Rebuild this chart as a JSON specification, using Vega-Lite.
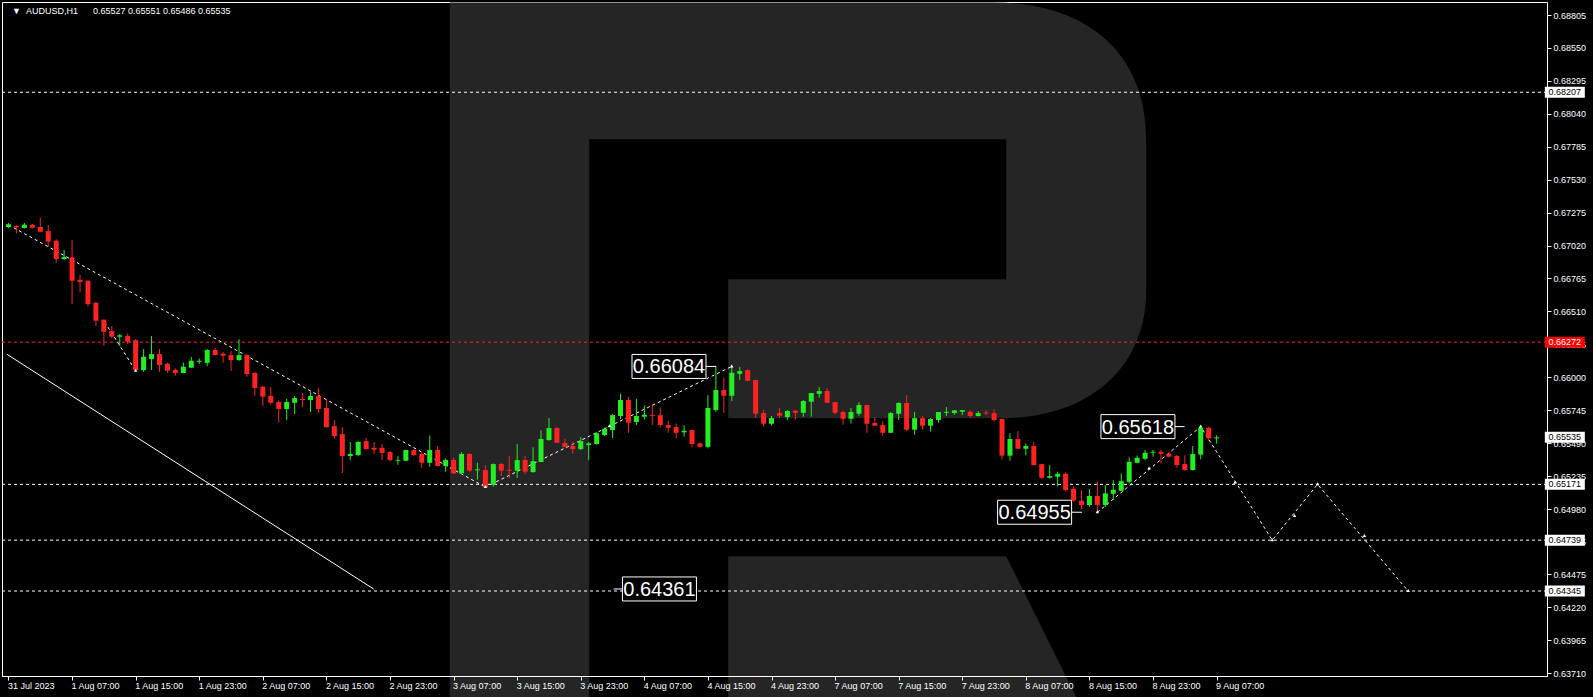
{
"$schema": "https://vega.github.io/schema/vega-lite/v6.json",
"width": 1545, "height": 674,
"autosize": {"type": "none"},
"padding": {"left": 2, "top": 2, "right": 46, "bottom": 21},
"background": "#000000",
"config": {
  "view": {"fill": "#000000", "stroke": "#ffffff", "strokeWidth": 1},
  "font": "Liberation Sans",
  "axis": {"grid": false, "title": null},
  "axisX": {"labelAlign": "left", "labelBaseline": "top", "labelPadding": 1, "labelOffset": -1, "tickSize": 4, "labelFontSize": 9, "labelFont": "Liberation Sans", "labelColor": "#ffffff", "tickColor": "#ffffff", "domainColor": "#ffffff", "domain": true, "labelFlush": false, "labelOverlap": false},
  "axisY": {"labelAlign": "left", "labelBaseline": "middle", "labelPadding": 2, "tickSize": 4, "labelFontSize": 9, "labelFont": "Liberation Sans", "labelColor": "#ffffff", "tickColor": "#ffffff", "domain": false, "labelOverlap": false, "labelFlush": false}
},
"datasets": {
  "candles": [
{"i":0,"o":0.67164,"h":0.67195,"l":0.67156,"c":0.67185},
{"i":1,"o":0.67172,"h":0.67179,"l":0.67114,"c":0.67161},
{"i":2,"o":0.67156,"h":0.67195,"l":0.67152,"c":0.67182},
{"i":3,"o":0.67182,"h":0.67187,"l":0.67151,"c":0.67158},
{"i":4,"o":0.67164,"h":0.67236,"l":0.67127,"c":0.67127},
{"i":5,"o":0.67132,"h":0.67179,"l":0.67011,"c":0.67050},
{"i":6,"o":0.67058,"h":0.67068,"l":0.66887,"c":0.66916},
{"i":7,"o":0.66916,"h":0.66985,"l":0.66908,"c":0.66931},
{"i":8,"o":0.66929,"h":0.67063,"l":0.66567,"c":0.66748},
{"i":9,"o":0.66755,"h":0.66792,"l":0.66655,"c":0.66738},
{"i":10,"o":0.66748,"h":0.66750,"l":0.66546,"c":0.66567},
{"i":11,"o":0.66577,"h":0.66585,"l":0.66397,"c":0.66438},
{"i":12,"o":0.66446,"h":0.66448,"l":0.66244,"c":0.66353},
{"i":13,"o":0.66358,"h":0.66397,"l":0.66301,"c":0.66314},
{"i":14,"o":0.66314,"h":0.66335,"l":0.66242,"c":0.66325},
{"i":15,"o":0.66321,"h":0.66340,"l":0.66257,"c":0.66275},
{"i":16,"o":0.66288,"h":0.66296,"l":0.66051,"c":0.66056},
{"i":17,"o":0.66056,"h":0.66218,"l":0.66043,"c":0.66159},
{"i":18,"o":0.66141,"h":0.66319,"l":0.66056,"c":0.66180},
{"i":19,"o":0.66180,"h":0.66218,"l":0.66043,"c":0.66095},
{"i":20,"o":0.66105,"h":0.66112,"l":0.66035,"c":0.66051},
{"i":21,"o":0.66058,"h":0.66069,"l":0.66012,"c":0.66033},
{"i":22,"o":0.66033,"h":0.66115,"l":0.66030,"c":0.66082},
{"i":23,"o":0.66074,"h":0.66157,"l":0.66071,"c":0.66128},
{"i":24,"o":0.66120,"h":0.66146,"l":0.66102,"c":0.66128},
{"i":25,"o":0.66112,"h":0.66218,"l":0.66087,"c":0.66211},
{"i":26,"o":0.66211,"h":0.66229,"l":0.66172,"c":0.66172},
{"i":27,"o":0.66183,"h":0.66196,"l":0.66112,"c":0.66167},
{"i":28,"o":0.66172,"h":0.66203,"l":0.66049,"c":0.66133},
{"i":29,"o":0.66133,"h":0.66296,"l":0.66128,"c":0.66172},
{"i":30,"o":0.66172,"h":0.66177,"l":0.66004,"c":0.66025},
{"i":31,"o":0.66033,"h":0.66043,"l":0.65857,"c":0.65917},
{"i":32,"o":0.65927,"h":0.65935,"l":0.65777,"c":0.65850},
{"i":33,"o":0.65855,"h":0.65924,"l":0.65788,"c":0.65803},
{"i":34,"o":0.65808,"h":0.65824,"l":0.65648,"c":0.65754},
{"i":35,"o":0.65754,"h":0.65832,"l":0.65669,"c":0.65808},
{"i":36,"o":0.65803,"h":0.65855,"l":0.65715,"c":0.65839},
{"i":37,"o":0.65832,"h":0.65878,"l":0.65768,"c":0.65824},
{"i":38,"o":0.65824,"h":0.65888,"l":0.65731,"c":0.65855},
{"i":39,"o":0.65855,"h":0.65917,"l":0.65725,"c":0.65754},
{"i":40,"o":0.65762,"h":0.65824,"l":0.65610,"c":0.65614},
{"i":41,"o":0.65622,"h":0.65669,"l":0.65524,"c":0.65545},
{"i":42,"o":0.65560,"h":0.65614,"l":0.65259,"c":0.65390},
{"i":43,"o":0.65390,"h":0.65499,"l":0.65359,"c":0.65406},
{"i":44,"o":0.65398,"h":0.65506,"l":0.65390,"c":0.65499},
{"i":45,"o":0.65506,"h":0.65530,"l":0.65440,"c":0.65444},
{"i":46,"o":0.65454,"h":0.65499,"l":0.65406,"c":0.65439},
{"i":47,"o":0.65454,"h":0.65483,"l":0.65359,"c":0.65414},
{"i":48,"o":0.65421,"h":0.65429,"l":0.65351,"c":0.65359},
{"i":49,"o":0.65354,"h":0.65390,"l":0.65323,"c":0.65361},
{"i":50,"o":0.65354,"h":0.65439,"l":0.65351,"c":0.65437},
{"i":51,"o":0.65437,"h":0.65444,"l":0.65390,"c":0.65398},
{"i":52,"o":0.65406,"h":0.65421,"l":0.65299,"c":0.65338},
{"i":53,"o":0.65338,"h":0.65550,"l":0.65307,"c":0.65437},
{"i":54,"o":0.65437,"h":0.65468,"l":0.65309,"c":0.65313},
{"i":55,"o":0.65313,"h":0.65372,"l":0.65269,"c":0.65359},
{"i":56,"o":0.65359,"h":0.65377,"l":0.65251,"c":0.65256},
{"i":57,"o":0.65256,"h":0.65421,"l":0.65248,"c":0.65406},
{"i":58,"o":0.65406,"h":0.65411,"l":0.65269,"c":0.65277},
{"i":59,"o":0.65280,"h":0.65338,"l":0.65209,"c":0.65287},
{"i":60,"o":0.65282,"h":0.65320,"l":0.65150,"c":0.65153},
{"i":61,"o":0.65168,"h":0.65333,"l":0.65153,"c":0.65328},
{"i":62,"o":0.65328,"h":0.65338,"l":0.65235,"c":0.65277},
{"i":63,"o":0.65284,"h":0.65390,"l":0.65220,"c":0.65277},
{"i":64,"o":0.65277,"h":0.65483,"l":0.65220,"c":0.65359},
{"i":65,"o":0.65359,"h":0.65390,"l":0.65251,"c":0.65269},
{"i":66,"o":0.65266,"h":0.65458,"l":0.65261,"c":0.65351},
{"i":67,"o":0.65344,"h":0.65591,"l":0.65344,"c":0.65522},
{"i":68,"o":0.65514,"h":0.65684,"l":0.65509,"c":0.65607},
{"i":69,"o":0.65607,"h":0.65617,"l":0.65493,"c":0.65493},
{"i":70,"o":0.65491,"h":0.65524,"l":0.65458,"c":0.65460},
{"i":71,"o":0.65468,"h":0.65501,"l":0.65408,"c":0.65444},
{"i":72,"o":0.65444,"h":0.65537,"l":0.65437,"c":0.65506},
{"i":73,"o":0.65475,"h":0.65499,"l":0.65359,"c":0.65488},
{"i":74,"o":0.65483,"h":0.65576,"l":0.65479,"c":0.65566},
{"i":75,"o":0.65553,"h":0.65612,"l":0.65545,"c":0.65602},
{"i":76,"o":0.65591,"h":0.65715,"l":0.65530,"c":0.65707},
{"i":77,"o":0.65700,"h":0.65870,"l":0.65677,"c":0.65824},
{"i":78,"o":0.65824,"h":0.65848,"l":0.65570,"c":0.65648},
{"i":79,"o":0.65654,"h":0.65834,"l":0.65630,"c":0.65700},
{"i":80,"o":0.65695,"h":0.65783,"l":0.65674,"c":0.65710},
{"i":81,"o":0.65707,"h":0.65793,"l":0.65630,"c":0.65700},
{"i":82,"o":0.65707,"h":0.65767,"l":0.65612,"c":0.65630},
{"i":83,"o":0.65630,"h":0.65664,"l":0.65570,"c":0.65609},
{"i":84,"o":0.65614,"h":0.65643,"l":0.65527,"c":0.65570},
{"i":85,"o":0.65574,"h":0.65630,"l":0.65540,"c":0.65586},
{"i":86,"o":0.65591,"h":0.65591,"l":0.65458,"c":0.65483},
{"i":87,"o":0.65488,"h":0.65496,"l":0.65455,"c":0.65462},
{"i":88,"o":0.65462,"h":0.65862,"l":0.65450,"c":0.65762},
{"i":89,"o":0.65746,"h":0.66082,"l":0.65733,"c":0.65901},
{"i":90,"o":0.65901,"h":0.65999,"l":0.65725,"c":0.65857},
{"i":91,"o":0.65857,"h":0.66084,"l":0.65816,"c":0.66035},
{"i":92,"o":0.66027,"h":0.66080,"l":0.65979,"c":0.66048},
{"i":93,"o":0.66056,"h":0.66060,"l":0.65971,"c":0.65973},
{"i":94,"o":0.65979,"h":0.65979,"l":0.65687,"c":0.65718},
{"i":95,"o":0.65723,"h":0.65746,"l":0.65617,"c":0.65640},
{"i":96,"o":0.65640,"h":0.65700,"l":0.65625,"c":0.65684},
{"i":97,"o":0.65723,"h":0.65762,"l":0.65687,"c":0.65702},
{"i":98,"o":0.65692,"h":0.65746,"l":0.65669,"c":0.65739},
{"i":99,"o":0.65741,"h":0.65746,"l":0.65669,"c":0.65725},
{"i":100,"o":0.65725,"h":0.65824,"l":0.65695,"c":0.65816},
{"i":101,"o":0.65811,"h":0.65878,"l":0.65695,"c":0.65878},
{"i":102,"o":0.65872,"h":0.65924,"l":0.65842,"c":0.65893},
{"i":103,"o":0.65893,"h":0.65917,"l":0.65798,"c":0.65803},
{"i":104,"o":0.65808,"h":0.65808,"l":0.65715,"c":0.65725},
{"i":105,"o":0.65731,"h":0.65741,"l":0.65633,"c":0.65679},
{"i":106,"o":0.65679,"h":0.65762,"l":0.65643,"c":0.65731},
{"i":107,"o":0.65718,"h":0.65808,"l":0.65702,"c":0.65785},
{"i":108,"o":0.65785,"h":0.65785,"l":0.65570,"c":0.65640},
{"i":109,"o":0.65646,"h":0.65690,"l":0.65625,"c":0.65625},
{"i":110,"o":0.65630,"h":0.65661,"l":0.65547,"c":0.65570},
{"i":111,"o":0.65570,"h":0.65731,"l":0.65568,"c":0.65723},
{"i":112,"o":0.65718,"h":0.65808,"l":0.65669,"c":0.65801},
{"i":113,"o":0.65801,"h":0.65862,"l":0.65584,"c":0.65594},
{"i":114,"o":0.65594,"h":0.65731,"l":0.65555,"c":0.65684},
{"i":115,"o":0.65684,"h":0.65700,"l":0.65594,"c":0.65625},
{"i":116,"o":0.65625,"h":0.65684,"l":0.65579,"c":0.65677},
{"i":117,"o":0.65669,"h":0.65731,"l":0.65648,"c":0.65731},
{"i":118,"o":0.65725,"h":0.65770,"l":0.65700,"c":0.65733},
{"i":119,"o":0.65723,"h":0.65746,"l":0.65710,"c":0.65744},
{"i":120,"o":0.65733,"h":0.65748,"l":0.65707,"c":0.65746},
{"i":121,"o":0.65733,"h":0.65746,"l":0.65687,"c":0.65700},
{"i":122,"o":0.65700,"h":0.65739,"l":0.65698,"c":0.65723},
{"i":123,"o":0.65728,"h":0.65746,"l":0.65707,"c":0.65720},
{"i":124,"o":0.65723,"h":0.65754,"l":0.65656,"c":0.65669},
{"i":125,"o":0.65677,"h":0.65681,"l":0.65365,"c":0.65393},
{"i":126,"o":0.65393,"h":0.65568,"l":0.65354,"c":0.65522},
{"i":127,"o":0.65522,"h":0.65584,"l":0.65444,"c":0.65447},
{"i":128,"o":0.65447,"h":0.65488,"l":0.65395,"c":0.65468},
{"i":129,"o":0.65468,"h":0.65499,"l":0.65317,"c":0.65320},
{"i":130,"o":0.65328,"h":0.65328,"l":0.65212,"c":0.65222},
{"i":131,"o":0.65222,"h":0.65320,"l":0.65217,"c":0.65235},
{"i":132,"o":0.65230,"h":0.65269,"l":0.65153,"c":0.65253},
{"i":133,"o":0.65253,"h":0.65264,"l":0.65114,"c":0.65127},
{"i":134,"o":0.65137,"h":0.65153,"l":0.65037,"c":0.65045},
{"i":135,"o":0.65045,"h":0.65127,"l":0.64978,"c":0.65011},
{"i":136,"o":0.65011,"h":0.65135,"l":0.64998,"c":0.65081},
{"i":137,"o":0.65081,"h":0.65192,"l":0.64955,"c":0.65011},
{"i":138,"o":0.65011,"h":0.65166,"l":0.64998,"c":0.65101},
{"i":139,"o":0.65098,"h":0.65204,"l":0.65050,"c":0.65129},
{"i":140,"o":0.65121,"h":0.65256,"l":0.65121,"c":0.65196},
{"i":141,"o":0.65191,"h":0.65380,"l":0.65178,"c":0.65346},
{"i":142,"o":0.65338,"h":0.65395,"l":0.65333,"c":0.65377},
{"i":143,"o":0.65369,"h":0.65437,"l":0.65359,"c":0.65416},
{"i":144,"o":0.65416,"h":0.65437,"l":0.65385,"c":0.65423},
{"i":145,"o":0.65423,"h":0.65437,"l":0.65333,"c":0.65408},
{"i":146,"o":0.65408,"h":0.65423,"l":0.65380,"c":0.65385},
{"i":147,"o":0.65390,"h":0.65398,"l":0.65299,"c":0.65320},
{"i":148,"o":0.65328,"h":0.65395,"l":0.65277,"c":0.65282},
{"i":149,"o":0.65282,"h":0.65468,"l":0.65277,"c":0.65406},
{"i":150,"o":0.65401,"h":0.65618,"l":0.65365,"c":0.65609},
{"i":151,"o":0.65609,"h":0.65617,"l":0.65509,"c":0.65527},
{"i":152,"o":0.65527,"h":0.65551,"l":0.65486,"c":0.65535}
  ],
  "levels": [{"p":0.68207},{"p":0.65171},{"p":0.64739},{"p":0.64345}],
  "bid": [{"p":0.66272}],
  "channel": [{"i":-0.19,"p":0.66178},{"i":45.96,"p":0.64360}],
  "paths": [
    {"s":"A","i":0,"p":0.67180},{"s":"A","i":60,"p":0.65150},
    {"s":"B","i":12.1,"p":0.66428},{"s":"B","i":16,"p":0.66051},
    {"s":"C","i":60,"p":0.65150},{"s":"C","i":91,"p":0.66084},
    {"s":"D","i":137,"p":0.64955},{"s":"D","i":150,"p":0.65618},{"s":"D","i":159,"p":0.64739},{"s":"D","i":164.7,"p":0.65171},{"s":"D","i":176.1,"p":0.64345}
  ],
  "arrows": [
    {"i":60,"p":0.65150},{"i":16,"p":0.66051},{"i":91,"p":0.66084},{"i":75.6,"p":0.65620},
    {"i":137,"p":0.64955},{"i":143.5,"p":0.65293},{"i":150,"p":0.65618},{"i":154.3,"p":0.65184},
    {"i":159,"p":0.64739},{"i":161.8,"p":0.64926},{"i":164.7,"p":0.65171},{"i":170.6,"p":0.64771},{"i":176.1,"p":0.64345}
  ],
  "connectors": [
    {"i1":87.76,"i2":89.06,"p":0.66084},
    {"i1":146.72,"i2":147.97,"p":0.65618},
    {"i1":133.74,"i2":135.06,"p":0.64955},
    {"i1":76.13,"i2":77.29,"p":0.64361}
  ],
  "labels": [
    {"i":83.1,"p":0.66084},
    {"i":142.1,"p":0.65618},
    {"i":129.1,"p":0.64955},
    {"i":81.9,"p":0.64361}
  ],
  "axisWhite": [{"p":0.68207},{"p":0.65535},{"p":0.65171},{"p":0.64739},{"p":0.64345}],
  "axisRed": [{"p":0.66272}],
  "header": [{"i":0.44,"p":0.68813,"t":"▼\u00a0\u00a0AUDUSD,H1\u00a0\u00a0\u00a0\u00a0\u00a0\u00a00.65527 0.65551 0.65486 0.65535"}]
},
"layer": [
  {
    "data": {"values": [{"i":73,"p":0.6676}]},
    "mark": {"type": "point", "filled": true, "size": 4, "fill": "#252525", "strokeWidth": 0, "opacity": 1,
      "shape": "M-138.9,-276.6 L0.5,-276.6 L0.5,421 L-138.9,421 Z M0,-276.6 L405,-276.6 C495,-276.6 557.5,-229 557.5,-139 L557.5,11 C557.5,91 497.5,139 412.5,139 L139.5,139 L139.5,0 L417.5,0 L417.5,-140 L0,-140 Z M139.5,277 L417.5,277 L489,421 L139.5,421 Z"},
    "encoding": {
      "x": {"field": "i", "type": "quantitative", "title": null, "scale": {"domain": [-0.1875, 192.9375], "nice": false, "zero": false}},
      "y": {"field": "p", "type": "quantitative", "title": null, "scale": {"domain": [0.63687, 0.68906], "nice": false, "zero": false}}
    }
  },
  {
    "data": {"name": "levels"},
    "mark": {"type": "rule", "color": "#ffffff", "strokeWidth": 1, "strokeDash": [3, 3]},
    "encoding": {
      "y": {"field": "p", "type": "quantitative", "title": null, "scale": {"domain": [0.63687, 0.68906], "nice": false, "zero": false}}
    }
  },
  {
    "data": {"name": "bid"},
    "mark": {"type": "rule", "color": "#ff2020", "strokeWidth": 1, "strokeDash": [3, 3]},
    "encoding": {
      "y": {"field": "p", "type": "quantitative", "title": null, "scale": {"domain": [0.63687, 0.68906], "nice": false, "zero": false}}
    }
  },
  {
    "data": {"name": "channel"},
    "mark": {"type": "line", "color": "#ffffff", "strokeWidth": 1},
    "encoding": {
      "x": {"field": "i", "type": "quantitative", "title": null, "scale": {"domain": [-0.1875, 192.9375], "nice": false, "zero": false}},
      "y": {"field": "p", "type": "quantitative", "title": null, "scale": {"domain": [0.63687, 0.68906], "nice": false, "zero": false}}
    }
  },
  {
    "data": {"name": "paths"},
    "mark": {"type": "line", "color": "#ffffff", "strokeWidth": 1, "strokeDash": [3, 3]},
    "encoding": {
      "x": {"field": "i", "type": "quantitative", "title": null, "scale": {"domain": [-0.1875, 192.9375], "nice": false, "zero": false}},
      "y": {"field": "p", "type": "quantitative", "title": null, "scale": {"domain": [0.63687, 0.68906], "nice": false, "zero": false}},
      "detail": {"field": "s", "type": "nominal"}
    }
  },
  {
    "data": {"name": "candles"},
    "mark": {"type": "rule", "strokeWidth": 1},
    "encoding": {
      "x": {"field": "i", "type": "quantitative", "title": null, "scale": {"domain": [-0.1875, 192.9375], "nice": false, "zero": false},
        "axis": {"zindex": 1, "labelOverlap": false, "tickCount": 60, "values": [0,8,16,24,32,40,48,56,64,72,80,88,96,104,112,120,128,136,144,152],
          "labelExpr": "['31 Jul 2023','1 Aug 07:00','1 Aug 15:00','1 Aug 23:00','2 Aug 07:00','2 Aug 15:00','2 Aug 23:00','3 Aug 07:00','3 Aug 15:00','3 Aug 23:00','4 Aug 07:00','4 Aug 15:00','4 Aug 23:00','7 Aug 07:00','7 Aug 15:00','7 Aug 23:00','8 Aug 07:00','8 Aug 15:00','8 Aug 23:00','9 Aug 07:00'][round(datum.value/8)]"}},
      "y": {"field": "l", "type": "quantitative", "title": null, "scale": {"domain": [0.63687, 0.68906], "nice": false, "zero": false},
        "axis": {"orient": "right", "zindex": 0, "labelOverlap": false, "tickCount": 60, "values": [0.68805,0.68550,0.68295,0.68040,0.67785,0.67530,0.67275,0.67020,0.66765,0.66510,0.66255,0.66000,0.65745,0.65490,0.65235,0.64980,0.64725,0.64475,0.64220,0.63965,0.63710], "format": ".5f"}},
      "y2": {"field": "h"},
      "color": {"condition": {"test": "datum.c >= datum.o", "value": "#22ee22"}, "value": "#ff2222"}
    }
  },
  {
    "data": {"name": "candles"},
    "mark": {"type": "bar", "width": 5},
    "encoding": {
      "x": {"field": "i", "type": "quantitative", "title": null, "scale": {"domain": [-0.1875, 192.9375], "nice": false, "zero": false}},
      "y": {"field": "o", "type": "quantitative", "title": null, "scale": {"domain": [0.63687, 0.68906], "nice": false, "zero": false}},
      "y2": {"field": "c"},
      "color": {"condition": {"test": "datum.c >= datum.o", "value": "#22ee22"}, "value": "#ff2222"}
    }
  },
  {
    "data": {"name": "arrows"},
    "mark": {"type": "point", "shape": "triangle", "filled": true, "size": 12, "color": "#ffffff", "opacity": 1},
    "encoding": {
      "x": {"field": "i", "type": "quantitative", "title": null, "scale": {"domain": [-0.1875, 192.9375], "nice": false, "zero": false}},
      "y": {"field": "p", "type": "quantitative", "title": null, "scale": {"domain": [0.63687, 0.68906], "nice": false, "zero": false}}
    }
  },
  {
    "data": {"name": "connectors"},
    "mark": {"type": "rule", "color": "#ffffff", "strokeWidth": 1},
    "encoding": {
      "x": {"field": "i1", "type": "quantitative", "title": null, "scale": {"domain": [-0.1875, 192.9375], "nice": false, "zero": false}},
      "x2": {"field": "i2"},
      "y": {"field": "p", "type": "quantitative", "title": null, "scale": {"domain": [0.63687, 0.68906], "nice": false, "zero": false}}
    }
  },
  {
    "data": {"name": "labels"},
    "mark": {"type": "point", "filled": true, "size": 4, "fill": "#000000", "stroke": "#ffffff", "strokeWidth": 1, "opacity": 1, "shape": "M-37,-12 L37,-12 L37,12 L-37,12 Z"},
    "encoding": {
      "x": {"field": "i", "type": "quantitative", "title": null, "scale": {"domain": [-0.1875, 192.9375], "nice": false, "zero": false}},
      "y": {"field": "p", "type": "quantitative", "title": null, "scale": {"domain": [0.63687, 0.68906], "nice": false, "zero": false}}
    }
  },
  {
    "data": {"name": "labels"},
    "mark": {"type": "text", "color": "#ffffff", "font": "Liberation Sans", "fontSize": 20, "align": "center", "baseline": "middle", "dy": 1},
    "encoding": {
      "x": {"field": "i", "type": "quantitative", "title": null, "scale": {"domain": [-0.1875, 192.9375], "nice": false, "zero": false}},
      "y": {"field": "p", "type": "quantitative", "title": null, "scale": {"domain": [0.63687, 0.68906], "nice": false, "zero": false}},
      "text": {"field": "p", "type": "quantitative", "format": ".5f"}
    }
  },
  {
    "data": {"name": "axisWhite"},
    "mark": {"type": "point", "filled": true, "size": 4, "fill": "#ffffff", "strokeWidth": 0, "opacity": 1, "shape": "M-20,-5.5 L20,-5.5 L20,5.5 L-20,5.5 Z"},
    "encoding": {
      "x": {"datum": 195.81, "type": "quantitative", "scale": {"domain": [-0.1875, 192.9375], "nice": false, "zero": false}},
      "y": {"field": "p", "type": "quantitative", "title": null, "scale": {"domain": [0.63687, 0.68906], "nice": false, "zero": false}}
    }
  },
  {
    "data": {"name": "axisRed"},
    "mark": {"type": "point", "filled": true, "size": 4, "fill": "#ff0000", "strokeWidth": 0, "opacity": 1, "shape": "M-20,-5.5 L20,-5.5 L20,5.5 L-20,5.5 Z"},
    "encoding": {
      "x": {"datum": 195.81, "type": "quantitative", "scale": {"domain": [-0.1875, 192.9375], "nice": false, "zero": false}},
      "y": {"field": "p", "type": "quantitative", "title": null, "scale": {"domain": [0.63687, 0.68906], "nice": false, "zero": false}}
    }
  },
  {
    "data": {"name": "axisWhite"},
    "mark": {"type": "text", "color": "#000000", "font": "Liberation Sans", "fontSize": 9, "align": "center", "baseline": "middle"},
    "encoding": {
      "x": {"datum": 195.81, "type": "quantitative", "scale": {"domain": [-0.1875, 192.9375], "nice": false, "zero": false}},
      "y": {"field": "p", "type": "quantitative", "title": null, "scale": {"domain": [0.63687, 0.68906], "nice": false, "zero": false}},
      "text": {"field": "p", "type": "quantitative", "format": ".5f"}
    }
  },
  {
    "data": {"name": "axisRed"},
    "mark": {"type": "text", "color": "#ffffff", "font": "Liberation Sans", "fontSize": 9, "align": "center", "baseline": "middle"},
    "encoding": {
      "x": {"datum": 195.81, "type": "quantitative", "scale": {"domain": [-0.1875, 192.9375], "nice": false, "zero": false}},
      "y": {"field": "p", "type": "quantitative", "title": null, "scale": {"domain": [0.63687, 0.68906], "nice": false, "zero": false}},
      "text": {"field": "p", "type": "quantitative", "format": ".5f"}
    }
  },
  {
    "data": {"name": "header"},
    "mark": {"type": "text", "color": "#ffffff", "font": "Liberation Sans", "fontSize": 9, "align": "left", "baseline": "alphabetic"},
    "encoding": {
      "x": {"field": "i", "type": "quantitative", "title": null, "scale": {"domain": [-0.1875, 192.9375], "nice": false, "zero": false}},
      "y": {"field": "p", "type": "quantitative", "title": null, "scale": {"domain": [0.63687, 0.68906], "nice": false, "zero": false}},
      "text": {"field": "t", "type": "nominal"}
    }
  }
]
}
